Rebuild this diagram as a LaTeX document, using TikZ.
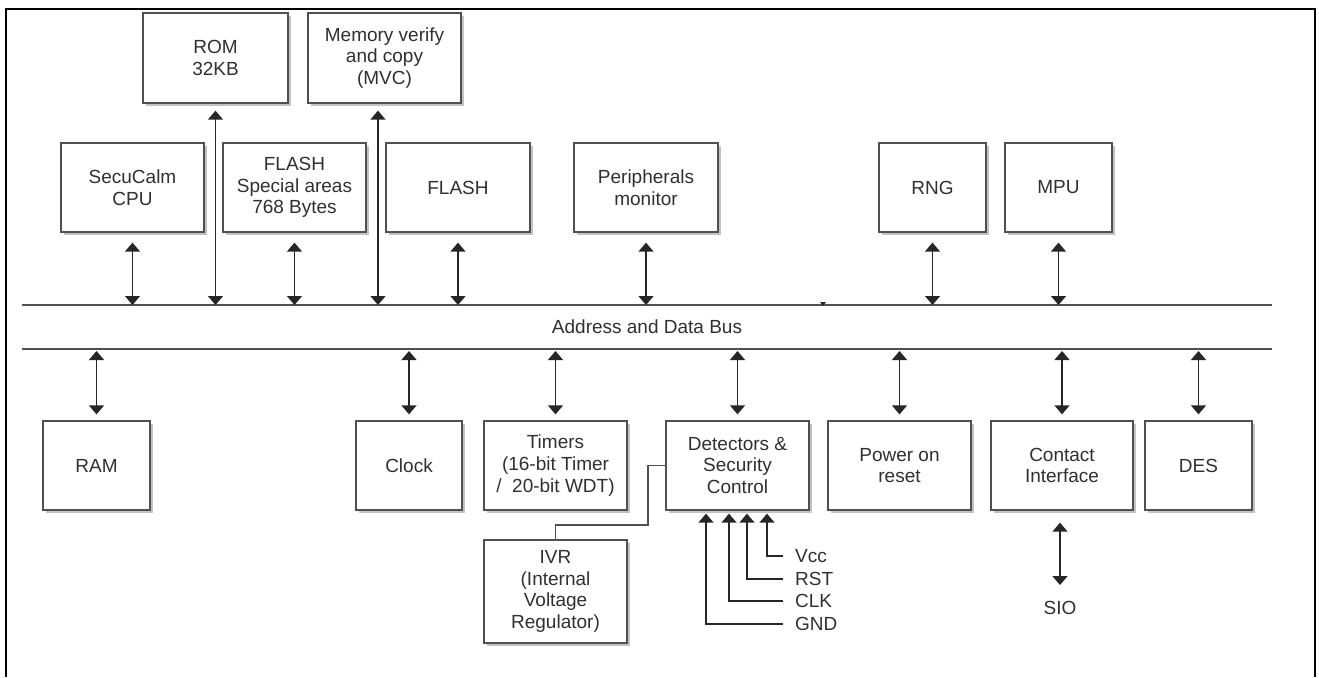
\documentclass[tikz,border=0pt]{standalone}
\usepackage{fontspec}
\setmainfont{Liberation Sans}
\usetikzlibrary{arrows.meta,shadows}
\definecolor{txt}{HTML}{303030}
\definecolor{edge}{HTML}{505050}
\tikzset{
  blk/.style={draw=edge, line width=1.3pt, fill=white, text=txt, align=center,
    inner sep=0pt, font=\fontsize{19}{21.7}\selectfont,
    drop shadow={opacity=0.4, fill=black!60, shadow xshift=3pt, shadow yshift=-3pt}},
  wide/.style={minimum width=143pt, minimum height=89pt},
  narrow/.style={minimum width=107pt, minimum height=89pt},
  lbl/.style={text=txt, inner sep=0pt, font=\fontsize{19}{21.7}\selectfont},
  sig/.style={text=txt, inner xsep=12pt, inner ysep=0pt, font=\fontsize{19}{21.7}\selectfont},
  tip/.tip={Triangle[width=15pt,length=9pt]},
  biarrow/.style={{tip}-{tip}, line width=1.4pt, draw=black!85},
  inarrow/.style={-{tip}, line width=1.4pt, draw=black!85},
  bus/.style={line width=1.5pt, draw=edge},
  wire/.style={line width=1.1pt, draw=edge},
  frame/.style={line width=2.5pt, draw=black}
}
\begin{document}
\begin{tikzpicture}[x=1pt, y=-1pt]
\useasboundingbox (0,0) rectangle (1319,677);
\draw[frame] (6,677) -- (6,9) -- (1315,9) -- (1315,677);

% bus
\coordinate (busTL) at (22,305);
\coordinate (busTR) at (1272,305);
\coordinate (busBL) at (22,349);
\coordinate (busBR) at (1272,349);
\coordinate (busT) at (0,305);
\coordinate (busB) at (0,351);
\draw[bus] (busTL) -- (busTR);
\draw[bus] (busBL) -- (busBR);
\node[lbl] (buslbl) at (647,327) {Address and Data Bus};
\fill[black!85] (820,302) -- (826,302) -- (823,306) -- cycle;

% top blocks
\node[blk, minimum width=145pt, minimum height=90pt] (rom) at (215.5,58) {ROM\\32KB};
\node[blk, minimum width=153pt, minimum height=90pt] (mvc) at (384.5,58) {Memory verify\\and copy\\(MVC)};
\node[blk, wide] (cpu) at (132.5,187.5) {SecuCalm\\CPU};
\node[blk, wide] (fsa) at (294.5,187.5) {FLASH\\Special areas\\768 Bytes};
\node[blk, minimum width=144pt, minimum height=89pt] (flash) at (458,187.5) {FLASH};
\node[blk, minimum width=144pt, minimum height=89pt] (periph) at (646,187.5) {Peripherals\\monitor};
\node[blk, narrow] (rng) at (932.5,187.5) {RNG};
\node[blk, narrow] (mpu) at (1058.5,187.5) {MPU};

% bottom blocks
\node[blk, narrow] (ram) at (96.5,465.5) {RAM};
\node[blk, minimum width=106pt, minimum height=89pt] (clock) at (409,465.5) {Clock};
\node[blk, wide] (timers) at (555.5,465.5) {Timers\\(16-bit Timer\\/\ \ 20-bit WDT)};
\node[blk, wide] (det) at (737.5,465.5) {Detectors \&\\Security\\Control};
\node[blk, wide] (por) at (899.5,465.5) {Power on\\reset};
\node[blk, minimum width=142pt, minimum height=89pt] (ci) at (1062,465.5) {Contact\\Interface};
\node[blk, narrow] (des) at (1198.5,465.5) {DES};
\node[blk, minimum width=143pt, minimum height=103pt] (ivr) at (555.5,591.5) {IVR\\(Internal\\Voltage\\Regulator)};

% top connectors
\foreach \n in {cpu,fsa,flash,periph,rng,mpu}{
  \draw[biarrow] ([yshift=-10pt]\n.south) -- (\n.south |- busT);
}
\draw[biarrow] ([yshift=-7pt]rom.south) -- (rom.south |- busT);
\coordinate (mvcA) at ([xshift=-6.5pt,yshift=-7pt]mvc.south);
\draw[biarrow] (mvcA) -- (mvcA |- busT);

% bottom connectors
\foreach \n in {ram,clock,timers,det,por,ci,des}{
  \draw[biarrow] (\n.north |- busB) -- ([yshift=6pt]\n.north);
}

% IVR to detectors
\coordinate (ivrbend) at (648,525);
\draw[wire] (ivr.north) |- (ivrbend) |- (det.west);

% detector inputs
\coordinate (dv) at ([xshift=29.5pt,yshift=-3pt]det.south);
\coordinate (dr) at ([xshift=9.5pt,yshift=-3pt]det.south);
\coordinate (dc) at ([xshift=-8.5pt,yshift=-3pt]det.south);
\coordinate (dg) at ([xshift=-31.5pt,yshift=-3pt]det.south);
\node[sig, anchor=west] (vcc) at (783,556) {Vcc};
\node[sig, anchor=west] (rst) at (783,579) {RST};
\node[sig, anchor=west] (clk) at (783,601) {CLK};
\node[sig, anchor=west] (gnd) at (783,624) {GND};
\draw[inarrow] (vcc.west) -| (dv);
\draw[inarrow] (rst.west) -| (dr);
\draw[inarrow] (clk.west) -| (dc);
\draw[inarrow] (gnd.west) -| (dg);

% SIO
\node[lbl] (sio) at (1060,608) {SIO};
\coordinate (sioTop) at ([yshift=23pt]sio.center);
\coordinate (ciBot) at (sioTop |- ci.south);
\draw[biarrow] ([yshift=-12pt]ciBot) -- (sioTop);
\end{tikzpicture}
\end{document}
